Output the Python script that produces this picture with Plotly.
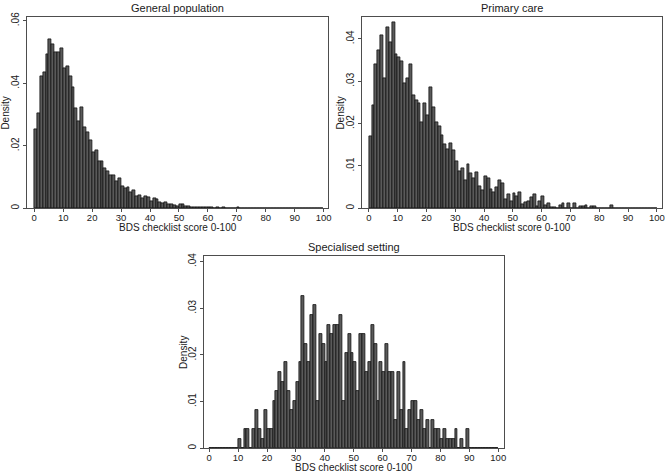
import plotly.graph_objects as go

# ---------------- data (density per 1-point bin, bins start at 0..99) ----------------
bins = list(range(100))

general_population = [
    .0254, .0304, .0421, .0434, .0494, .0541, .0526, .0499, .0499, .0512,
    .0448, .0455, .0421, .0387, .0320, .0277, .0322, .0259, .0243, .0217,
    .0179, .0185, .0149, .0149, .0128, .0117, .0107, .0105, .0085, .0096,
    .0071, .0064, .0067, .0052, .0056, .0038, .0043, .0033, .0038, .0036,
    .0022, .0032, .0029, .0019, .0016, .0019, .0014, .0013, .0011, .0008,
    .0012, .0013, .0005, .0008, .0004, .0003, .0003, .0003, .0002, .0003,
    .0004, .0002, .0001, .0002, .0001, .0002, .0001, .0001, .0001, .0001,
    .0003, .0001, .0001, .0001, .0001, 0, 0, 0, 0, 0,
    0, 0, 0, 0, 0, 0, 0, 0, 0, 0,
    0, 0, 0, 0, 0, 0, 0, 0, 0, 0,
]

primary_care = [
    .0169, .0244, .0339, .0372, .0409, .0306, .0427, .0392, .0439, .0364,
    .0357, .0346, .0294, .0306, .0339, .0268, .0255, .0248, .0203, .0248,
    .0219, .0286, .0239, .0203, .0194, .0172, .0150, .0140, .0154, .0138,
    .0112, .0088, .0094, .0067, .0104, .0083, .0071, .0084, .0053, .0042,
    .0075, .0070, .0045, .0037, .0050, .0067, .0059, .0021, .0033, .0016,
    .0035, .0029, .0037, .0009, .0013, .0017, .0026, .0032, .0004, .0016,
    .0028, .0006, .0012, .0002, .0002, 0, .0008, .0012, 0, .0012,
    0, .0012, 0, .0004, .0004, .0008, 0, .0004, .0004, 0,
    0, 0, 0, 0, .0008, 0, 0, 0, 0, 0,
    0, 0, 0, 0, 0, 0, 0, 0, 0, 0,
]

specialised_setting = [
    0, 0, 0, 0, 0, 0, 0, 0, 0, 0,
    .0020, 0, .0041, .0041, 0, .0041, .0082, .0041, .0020, .0082,
    .0041, .0041, .0102, .0122, .0163, .0143, .0184, .0122, .0082, .0102,
    .0143, .0184, .0327, .0224, .0184, .0286, .0306, .0102, .0245, .0224,
    .0184, .0265, .0245, .0265, .0265, .0286, .0102, .0204, .0245, .0204,
    .0184, .0122, .0245, .0245, .0163, .0184, .0265, .0224, .0102, .0184,
    .0163, .0224, .0163, .0163, .0061, .0163, .0082, .0184, .0041, .0082,
    .0102, .0102, .0061, .0082, .0041, .0061, 0, .0061, .0041, .0041,
    .0020, .0041, .0020, .0020, .0020, .0041, 0, .0020, 0, .0041,
    0, 0, 0, 0, 0, 0, 0, 0, 0, 0,
]

panel_titles = ["General population", "Primary care", "Specialised setting"]
x_title = "BDS checklist score 0-100"
y_title = "Density"
x_ticks = [0, 10, 20, 30, 40, 50, 60, 70, 80, 90, 100]
y_ticks_gp = [0, .02, .04, .06]
y_ticks_gp_text = ["0", ".02", ".04", ".06"]
y_ticks_other = [0, .01, .02, .03, .04]
y_ticks_other_text = ["0", ".01", ".02", ".03", ".04"]

# ---------------- layout geometry ----------------
W, H = 669, 472
FONT = "Liberation Sans, Arial, sans-serif"
BAR_FILL = "#5a5a5a"
BAR_LINE = "#111111"
FRAME = "#4d4d4d"

def dx(px):
    return px / W

def dy(py):
    return 1 - py / H

panels = [
    (general_population, (27.3, 328.0), (17.3, 208.3), 0.0611, y_ticks_gp, y_ticks_gp_text, (-2.4, 101.5)),
    (primary_care, (362.3, 661.7), (17.3, 208.3), 0.0451, y_ticks_other, y_ticks_other_text, (-2.3, 101.7)),
    (specialised_setting, (204.3, 504.3), (256.0, 448.3), 0.0412, y_ticks_other, y_ticks_other_text, (-1.7, 102.1)),
]

fig = go.Figure()
layout = dict(
    template="none",
    width=W, height=H,
    margin=dict(l=0, r=0, t=0, b=0, pad=0),
    paper_bgcolor="white", plot_bgcolor="white",
    showlegend=False,
    font=dict(family=FONT, size=10, color="#1a1a1a"),
    bargap=0,
)
annotations = []

for i, (vals, (x0, x1), (ytop, ybot), ymax, yt, ytt, xr) in enumerate(panels):
    sfx = "" if i == 0 else str(i + 1)
    fig.add_trace(go.Bar(
        x=bins, y=vals, offset=0, width=1,
        marker=dict(color=BAR_FILL, line=dict(color=BAR_LINE, width=0.8)),
        xaxis="x" + sfx, yaxis="y" + sfx, hoverinfo="skip",
    ))
    layout["xaxis" + sfx] = dict(
        domain=[dx(x0), dx(x1)], anchor="y" + sfx, range=list(xr),
        tickvals=x_ticks, ticks="outside", ticklen=3, tickcolor=FRAME,
        ticklabelstandoff=-3,
        showline=True, linecolor=FRAME, linewidth=1, mirror=True,
        showgrid=False, zeroline=False, automargin=False,
        tickfont=dict(family=FONT, size=9.5, color="#1a1a1a"),
    )
    layout["yaxis" + sfx] = dict(
        domain=[dy(ybot), dy(ytop)], anchor="x" + sfx, range=[0, ymax],
        tickvals=yt, ticktext=ytt, ticks="outside", ticklen=3, tickcolor=FRAME,
        tickangle=-90,
        showline=True, linecolor=FRAME, linewidth=1, mirror=True,
        showgrid=False, zeroline=False, automargin=False,
        tickfont=dict(family=FONT, size=10, color="#1a1a1a"),
    )
    cx = (x0 + x1) / 2
    annotations.append(dict(
        text=panel_titles[i], x=dx(cx), y=dy(ytop - 9.5), xref="paper", yref="paper",
        showarrow=False, xanchor="center", yanchor="middle",
        font=dict(family=FONT, size=11, color="#1a1a1a"),
    ))
    annotations.append(dict(
        text=x_title, x=dx(cx), y=dy(ybot + 19), xref="paper", yref="paper",
        showarrow=False, xanchor="center", yanchor="middle",
        font=dict(family=FONT, size=10, color="#1a1a1a"),
    ))
    annotations.append(dict(
        text=y_title, x=dx(x0 - 21.5), y=dy((ytop + ybot) / 2), xref="paper", yref="paper",
        showarrow=False, xanchor="center", yanchor="middle", textangle=-90,
        font=dict(family=FONT, size=10, color="#1a1a1a"),
    ))

layout["annotations"] = annotations
fig.update_layout(**layout)
fig.write_html("out.html", config={"displayModeBar": False},
               post_script="document.body.style.margin='0px';")
